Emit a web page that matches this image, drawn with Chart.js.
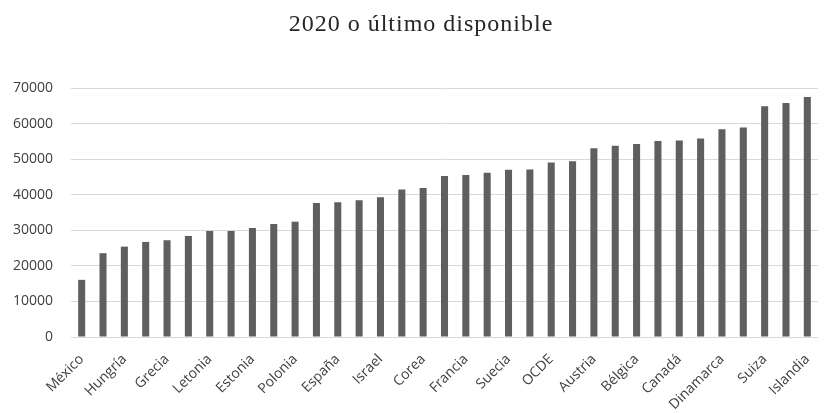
<!DOCTYPE html>
<html>
<head>
<meta charset="utf-8">
<script src="https://cdn.jsdelivr.net/npm/chart.js@4/dist/chart.umd.min.js"></script>
<style>
  html, body { margin: 0; padding: 0; background: #ffffff; }
  #wrap { width: 825px; height: 413px; }
</style>
</head>
<body>
<div id="wrap"><canvas id="c" width="825" height="413"></canvas></div>
<script>
// Countries ordered from lowest to highest value; only every other name is printed on the axis
const countries = [
  "México", "Eslovaquia", "Hungría", "Chile", "Grecia", "Portugal", "Letonia",
  "República Checa", "Estonia", "Lituania", "Polonia", "Japón", "España", "Italia",
  "Israel", "Eslovenia", "Corea", "Nueva Zelanda", "Francia", "Finlandia", "Suecia",
  "Reino Unido", "OCDE", "Irlanda", "Austria", "Alemania", "Bélgica", "Australia",
  "Canadá", "Noruega", "Dinamarca", "Países Bajos", "Suiza", "Luxemburgo", "Islandia"
];

const values = [
  16070, 23560, 25410, 26730, 27200, 28410, 29810,
  29810, 30650, 31770, 32420, 37660, 37860, 38420,
  39260, 41500, 41870, 45230, 45510, 46160, 47000,
  47110, 49080, 49440, 53090, 53730, 54290, 55130,
  55250, 55810, 58420, 58890, 64870, 65790, 67470
];

const yTicks = [0, 10000, 20000, 30000, 40000, 50000, 60000, 70000];

const titleText = "2020 o último disponible";

// Heading drawn over the plot, centred a little right of the canvas middle
const headingPlugin = {
  id: "heading",
  afterDraw(chart) {
    const ctx = chart.ctx;
    ctx.save();
    ctx.font = "24px 'Liberation Serif', 'DejaVu Serif', serif";
    if ("letterSpacing" in ctx) ctx.letterSpacing = "1px";
    ctx.fillStyle = "#262626";
    ctx.textAlign = "center";
    ctx.textBaseline = "alphabetic";
    ctx.fillText(titleText, 421, 31);
    ctx.restore();
  }
};

new Chart(document.getElementById("c"), {
  type: "bar",
  data: {
    labels: countries,
    datasets: [{
      data: values,
      backgroundColor: "#5f5f5f",
      borderWidth: 0,
      categoryPercentage: 1,
      barPercentage: 0.33
    }]
  },
  plugins: [headingPlugin],
  options: {
    responsive: false,
    animation: false,
    devicePixelRatio: 1,
    layout: { padding: { left: 0, right: 7, top: 88, bottom: 0 } },
    plugins: {
      legend: { display: false },
      tooltip: { enabled: false },
      title: { display: false }
    },
    scales: {
      x: {
        grid: { display: false, drawTicks: false },
        border: { display: false },
        afterFit: function (axis) {
          // keep the rotated names from pushing the plot area around
          axis.paddingLeft = 0;
          axis.paddingRight = 0;
          axis.height = 76;
        },
        ticks: {
          autoSkip: false,
          maxRotation: 45,
          minRotation: 45,
          padding: 14,
          color: "#404040",
          font: { family: "'Open Sans', sans-serif", size: 14 },
          callback: function (value, index) {
            return index % 2 === 0 ? countries[index] : "";
          }
        }
      },
      y: {
        min: yTicks[0],
        max: yTicks[yTicks.length - 1],
        afterBuildTicks: function (axis) {
          axis.ticks = yTicks.map(v => ({ value: v }));
        },
        afterFit: function (axis) {
          axis.width = 71;
          axis.paddingTop = 0;
          axis.paddingBottom = 0;
        },
        grid: { color: "#d9d9d9", lineWidth: 1, drawTicks: false },
        border: { display: false },
        ticks: {
          padding: 18,
          color: "#404040",
          font: { family: "'Open Sans', sans-serif", size: 14 },
          callback: v => String(v)
        }
      }
    }
  }
});
</script>
</body>
</html>
